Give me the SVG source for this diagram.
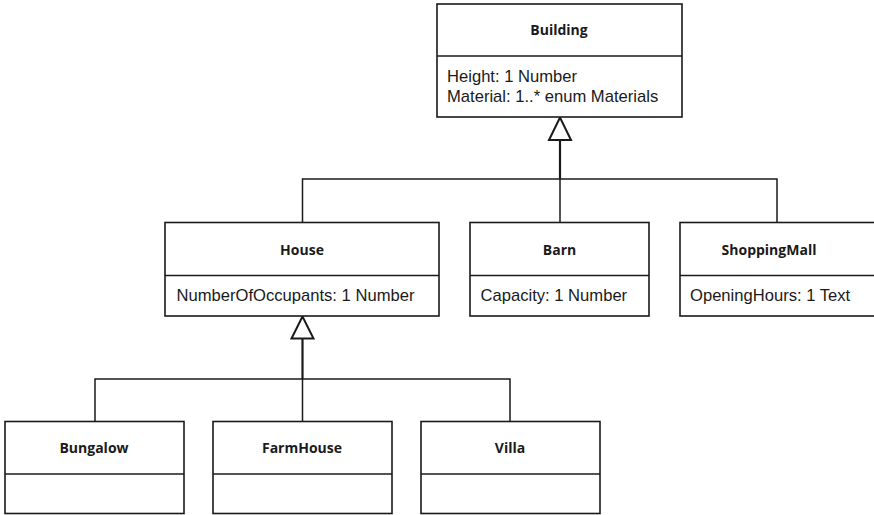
<svg xmlns="http://www.w3.org/2000/svg" width="874" height="515" viewBox="0 0 874 515">
<style>
.box{fill:#fff;stroke:#1a1a1a;stroke-width:1.6}
.div{stroke:#1a1a1a;stroke-width:1.6}
.title{font-family:"Open Sans","Noto Sans",sans-serif;font-weight:bold;font-size:14px;fill:#1a1a1a;text-anchor:middle}
.attr{font-family:"Liberation Sans",Arial,sans-serif;font-size:16.6px;fill:#1a1a1a}
.ln{fill:none;stroke:#1a1a1a;stroke-width:1.5}
.stem{fill:none;stroke:#1a1a1a;stroke-width:2.2}
.tri{fill:#fff;stroke:#1a1a1a;stroke-width:2}
</style>
<rect width="874" height="515" fill="#fff"/>
<g id="connectors">
<polyline class="ln" points="302.5,222.5 302.5,179 777,179 777,222.5"/>
<line class="ln" x1="560" y1="179" x2="560" y2="222.5"/>
<line class="stem" x1="560" y1="140" x2="560" y2="179"/>
<polygon class="tri" points="560,117.5 549,140 571,140"/>
<polyline class="ln" points="95,421.5 95,379 510,379 510,421.5"/>
<line class="ln" x1="302.5" y1="379" x2="302.5" y2="421.5"/>
<line class="stem" x1="302.5" y1="338" x2="302.5" y2="379"/>
<polygon class="tri" points="302.5,316.5 291.5,338.5 313.5,338.5"/>
</g>
<g id="Building">
<rect class="box" x="437" y="4" width="245" height="113"/>
<line class="div" x1="437" y1="56" x2="682" y2="56"/>
<text class="title" x="559" y="35">Building</text>
<text class="attr" x="447" y="82">Height: 1 Number</text>
<text class="attr" x="447" y="102">Material: 1..* enum Materials</text>
</g>
<g id="House">
<rect class="box" x="165" y="222.5" width="274" height="93.5"/>
<line class="div" x1="165" y1="275.5" x2="439" y2="275.5"/>
<text class="title" x="302" y="255">House</text>
<text class="attr" x="176.5" y="301">NumberOfOccupants: 1 Number</text>
</g>
<g id="Barn">
<rect class="box" x="470" y="222.5" width="179" height="93.5"/>
<line class="div" x1="470" y1="275.5" x2="649" y2="275.5"/>
<text class="title" x="559.5" y="255">Barn</text>
<text class="attr" x="480.5" y="301">Capacity: 1 Number</text>
</g>
<g id="ShoppingMall">
<rect class="box" x="680" y="222.5" width="200" height="93.5"/>
<line class="div" x1="680" y1="275.5" x2="880" y2="275.5"/>
<text class="title" x="769" y="255">ShoppingMall</text>
<text class="attr" x="690" y="301">OpeningHours: 1 Text</text>
</g>
<g id="Bungalow">
<rect class="box" x="5" y="421.5" width="179" height="92"/>
<line class="div" x1="5" y1="474" x2="184" y2="474"/>
<text class="title" x="94" y="453">Bungalow</text>
</g>
<g id="FarmHouse">
<rect class="box" x="213" y="421.5" width="179" height="92"/>
<line class="div" x1="213" y1="474" x2="392" y2="474"/>
<text class="title" x="302" y="453">FarmHouse</text>
</g>
<g id="Villa">
<rect class="box" x="421" y="421.5" width="179" height="92"/>
<line class="div" x1="421" y1="474" x2="600" y2="474"/>
<text class="title" x="510" y="453">Villa</text>
</g>
</svg>
